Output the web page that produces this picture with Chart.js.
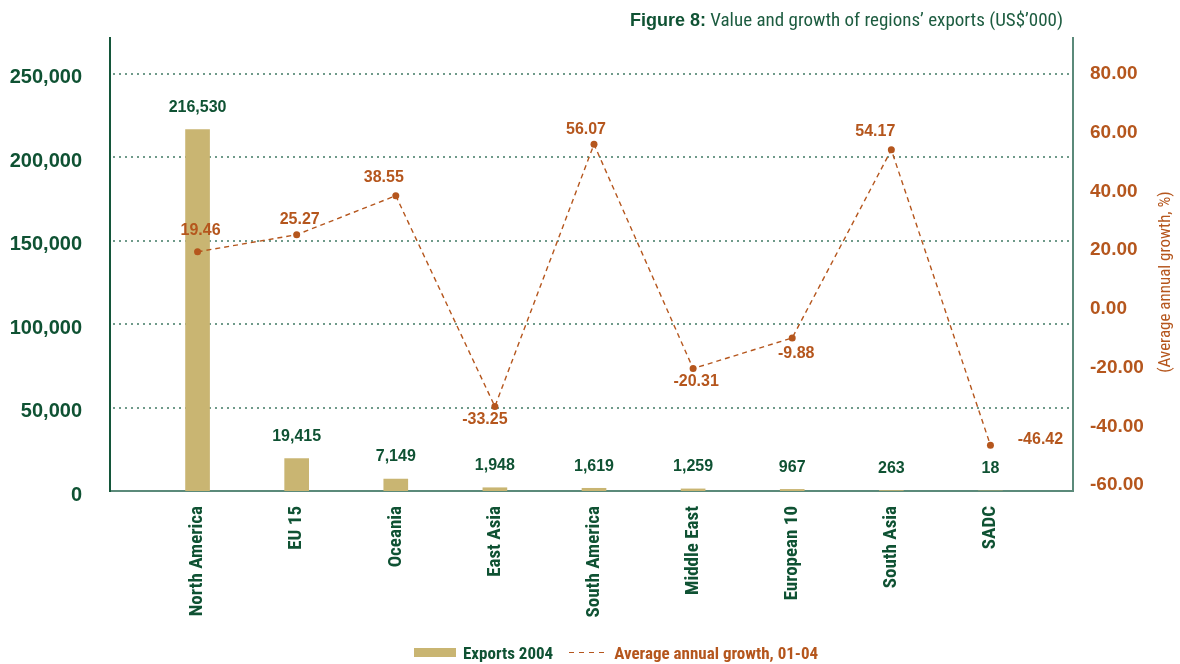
<!DOCTYPE html>
<html>
<head>
<meta charset="utf-8">
<script src="https://cdn.jsdelivr.net/npm/chart.js@4"></script>
<style>
  body { margin: 0; background: #fff; }
  #wrap { position: relative; width: 1180px; height: 664px; }
  #title { position: absolute; right: 117px; top: 8px; white-space: nowrap; color: #1d5c40;
           font-family: "Roboto Condensed", sans-serif; font-size: 19px; }
  #title b { font-family: "Liberation Sans", Arial, sans-serif; font-weight: bold; font-size: 18px; color: #0f5233; }
  #legend { position: absolute; left: 414px; top: 641px; height: 22px; white-space: nowrap;
            font-family: "Roboto Condensed", sans-serif; font-size: 17px; font-weight: bold; }
  #legend span { display: inline-block; vertical-align: middle; }
  .box { width: 42px; height: 9px; background: #c9b572; margin-right: 7px; }
  .dash { width: 38px; height: 1.5px; margin: 0 7px 0 16px;
          background: repeating-linear-gradient(to right, #b5561d 0 5px, transparent 5px 10px); }
</style>
</head>
<body>
<div id="wrap">
  <canvas id="chart" width="1180" height="664"></canvas>
  <div id="title"><b>Figure 8:</b> Value and growth of regions’ exports (US$’000)</div>
  <div id="legend">
    <span class="box"></span><span style="color:#0f5233">Exports 2004</span><span class="dash"></span><span style="color:#b5561d">Average annual growth, 01-04</span>
  </div>
</div>
<script>
const regions = ['North America', 'EU 15', 'Oceania', 'East Asia', 'South America', 'Middle East', 'European 10', 'South Asia', 'SADC'];
const exports2004 = [216530, 19415, 7149, 1948, 1619, 1259, 967, 263, 18];
const growth = [19.46, 25.27, 38.55, -33.25, 56.07, -20.31, -9.88, 54.17, -46.42];
const leftTicks = [0, 50000, 100000, 150000, 200000, 250000];
const rightTicks = [-60, -40, -20, 0, 20, 40, 60, 80];

const green = '#0f5233';
const orange = '#b5561d';
const tan = '#c9b572';
const axisGrey = '#5b8a7a';
const narrow = '"Roboto Condensed", sans-serif';
const sans = '"Liberation Sans", Arial, sans-serif';

// where each growth label sits relative to its point
const growthLabelPos = [[3, -21], [3, -15], [-12, -18], [-10, 13], [-8, -15], [3, 13], [4, 16], [-16, -18], [50, -6]];

const extras = {
  id: 'extras',
  beforeDatasetsDraw(chart) {
    const ctx = chart.ctx;
    const a = chart.chartArea;
    const yl = chart.scales.y;
    ctx.save();
    // dotted gridlines
    ctx.strokeStyle = '#6f9a8a';
    ctx.lineWidth = 2;
    ctx.setLineDash([2, 4]);
    leftTicks.slice(1).forEach(v => {
      const y = Math.round(yl.getPixelForValue(v));
      ctx.beginPath();
      ctx.moveTo(a.left - 35, y);
      ctx.lineTo(a.right + 30, y);
      ctx.stroke();
    });
    ctx.setLineDash([]);
    // axis lines
    ctx.lineWidth = 2;
    ctx.strokeStyle = axisGrey;
    ctx.beginPath();
    ctx.moveTo(a.left - 38, a.bottom);
    ctx.lineTo(a.right + 33, a.bottom);
    ctx.moveTo(a.right + 33, a.top);
    ctx.lineTo(a.right + 33, a.bottom + 1);
    ctx.stroke();
    ctx.strokeStyle = '#14563a';
    ctx.beginPath();
    ctx.moveTo(a.left - 38, a.top);
    ctx.lineTo(a.left - 38, a.bottom + 1);
    ctx.stroke();
    ctx.restore();
  },
  afterDatasetsDraw(chart) {
    const ctx = chart.ctx;
    ctx.save();
    ctx.textAlign = 'center';
    ctx.textBaseline = 'middle';
    // bar values
    ctx.font = 'bold 16px ' + sans;
    ctx.fillStyle = green;
    chart.getDatasetMeta(0).data.forEach((bar, i) => {
      ctx.fillText(exports2004[i].toLocaleString('en-US'), bar.x, bar.y - 22);
    });
    // growth values
    ctx.fillStyle = orange;
    chart.getDatasetMeta(1).data.forEach((pt, i) => {
      const p = growthLabelPos[i];
      ctx.fillText(growth[i].toFixed(2), pt.x + p[0], pt.y + p[1]);
    });
    // right axis title
    ctx.font = '17px ' + narrow;
    ctx.translate(1166, 282);
    ctx.rotate(-Math.PI / 2);
    ctx.fillText('(Average annual growth, %)', 0, 0);
    ctx.restore();
  }
};

new Chart(document.getElementById('chart'), {
  data: {
    labels: regions,
    datasets: [{
      type: 'bar',
      label: 'Exports 2004',
      data: exports2004,
      backgroundColor: tan,
      barThickness: 24,
      yAxisID: 'y',
      order: 2
    }, {
      type: 'line',
      label: 'Average annual growth, 01-04',
      data: growth,
      borderColor: orange,
      borderWidth: 1.4,
      borderDash: [5, 4],
      pointRadius: 3.5,
      pointBackgroundColor: orange,
      pointBorderWidth: 0,
      tension: 0,
      yAxisID: 'y1',
      order: 1
    }]
  },
  options: {
    responsive: false,
    animation: false,
    layout: { padding: { top: 37, right: 0, left: 0, bottom: 0 } },
    plugins: {
      legend: { display: false },
      tooltip: { enabled: false }
    },
    scales: {
      x: {
        grid: { display: false, drawTicks: false },
        border: { display: false },
        ticks: {
          color: green,
          font: { family: narrow, size: 19, weight: 'bold' },
          minRotation: 90,
          maxRotation: 90,
          padding: 15,
          autoSkip: false
        },
        afterFit(scale) { scale.height = 173; }
      },
      y: {
        position: 'left',
        min: 0,
        max: 272000,
        grid: { display: false, drawTicks: false },
        border: { display: false },
        afterBuildTicks(scale) { scale.ticks = leftTicks.map(v => ({ value: v })); },
        ticks: {
          color: green,
          font: { family: sans, size: 20, weight: 'bold' },
          padding: 66,
          labelOffset: 4,
          callback: v => v.toLocaleString('en-US')
        },
        afterFit(scale) { scale.width = 148; scale.paddingTop = 0; scale.paddingBottom = 0; }
      },
      y1: {
        position: 'right',
        min: -62,
        max: 92.6,
        grid: { display: false, drawTicks: false },
        border: { display: false },
        afterBuildTicks(scale) { scale.ticks = rightTicks.map(v => ({ value: v })); },
        ticks: {
          color: orange,
          font: { family: sans, size: 19, weight: 'bold' },
          padding: 50,
          callback: v => v.toFixed(2)
        },
        afterFit(scale) { scale.width = 140; scale.paddingTop = 0; scale.paddingBottom = 0; }
      }
    }
  },
  plugins: [extras]
});
</script>
</body>
</html>
